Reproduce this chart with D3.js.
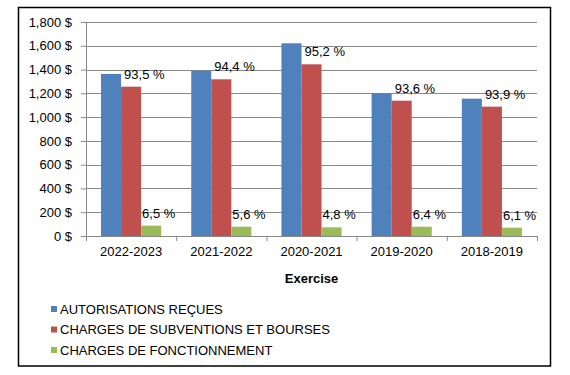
<!DOCTYPE html>
<html>
<head>
<meta charset="utf-8">
<script src="https://cdn.jsdelivr.net/npm/d3@7"></script>
<style>
  body { margin: 0; background: #fff; }
  svg text { font-family: "Liberation Sans", Arial, sans-serif; fill: #000; }
</style>
</head>
<body>
<div id="chart"></div>
<script>
// Data
const years = ["2022-2023", "2021-2022", "2020-2021", "2019-2020", "2018-2019"];
const seriesNames = ["AUTORISATIONS REÇUES", "CHARGES DE SUBVENTIONS ET BOURSES", "CHARGES DE FONCTIONNEMENT"];
const autorisations = [1363, 1390, 1621, 1200, 1155];
const subventions = [1256, 1318, 1444, 1138, 1088];
const fonctionnement = [87, 78, 73, 78, 70];
const subventionsPct = ["93,5 %", "94,4 %", "95,2 %", "93,6 %", "93,9 %"];
const fonctionnementPct = ["6,5 %", "5,6 %", "4,8 %", "6,4 %", "6,1 %"];
const yTicks = [0, 200, 400, 600, 800, 1000, 1200, 1400, 1600, 1800];
const colors = ["#4F81BD", "#C0504D", "#9BBB59"];

const width = 570, height = 375;
const margin = { top: 22, right: 33, bottom: 139, left: 86 };
const plotW = width - margin.left - margin.right;
const plotH = height - margin.top - margin.bottom;

const svg = d3.select("#chart")
    .append("svg")
    .attr("width", width)
    .attr("height", height);

// Outer frame
svg.append("rect")
    .attr("x", 18.5).attr("y", 7.5)
    .attr("width", 532).attr("height", 358.5)
    .attr("fill", "#fff")
    .attr("stroke", "#000")
    .attr("stroke-width", 1.5);

const g = svg.append("g")
    .attr("transform", `translate(${margin.left},${margin.top})`);

const x = d3.scaleBand().domain(years).range([0, plotW]);
const y = d3.scaleLinear().domain([0, 1800]).range([plotH, 0]);

// Bars inside each category: 15px gap each side, 3 bars of equal width
const x1 = d3.scaleBand()
    .domain([0, 1, 2])
    .range([x.bandwidth() / 6, x.bandwidth() * 5 / 6]);

// Gridlines
g.append("g")
    .selectAll("line")
    .data(yTicks.slice(1))
    .join("line")
    .attr("x1", 0).attr("x2", plotW)
    .attr("y1", d => Math.round(y(d)) + 0.5)
    .attr("y2", d => Math.round(y(d)) + 0.5)
    .attr("stroke", "#898989")
    .attr("stroke-width", 1);

// Y axis
const yAxis = g.append("g")
    .call(d3.axisLeft(y).tickValues(yTicks).tickSize(5).tickPadding(9)
        .tickFormat(d => d3.format(",")(d) + " $"));
yAxis.select(".domain").attr("stroke", "#898989");
yAxis.selectAll(".tick line").attr("stroke", "#898989");
yAxis.selectAll("text").style("font-size", "13px");

// Bars
const seriesData = [autorisations, subventions, fonctionnement];
seriesData.forEach((values, si) => {
    g.append("g")
        .selectAll("rect")
        .data(values)
        .join("rect")
        .attr("x", (d, i) => x(years[i]) + x1(si))
        .attr("y", d => y(d))
        .attr("width", x1.bandwidth())
        .attr("height", d => plotH - y(d))
        .attr("fill", colors[si]);
});

// Percent labels
const addLabels = (values, labels, si, dx) => {
    g.append("g")
        .selectAll("text")
        .data(values)
        .join("text")
        .attr("x", (d, i) => x(years[i]) + x1(si) + dx)
        .attr("y", d => y(d) - 8)
        .style("font-size", "13px")
        .text((d, i) => labels[i]);
};
addLabels(subventions, subventionsPct, 1, 3);
addLabels(fonctionnement, fonctionnementPct, 2, 1);

// X axis
const xAxis = g.append("g")
    .attr("transform", `translate(0,${plotH})`)
    .call(d3.axisBottom(x).tickSize(0).tickPadding(11));
xAxis.select(".domain").attr("stroke", "#898989");
xAxis.selectAll("text").style("font-size", "13px");
// category separators
xAxis.selectAll(".sep")
    .data(d3.range(years.length + 1))
    .join("line")
    .attr("x1", i => i * x.step() + 0.5)
    .attr("x2", i => i * x.step() + 0.5)
    .attr("y1", 0).attr("y2", 5)
    .attr("stroke", "#898989");

// Axis title
svg.append("text")
    .attr("x", margin.left + plotW / 2)
    .attr("y", 283)
    .attr("text-anchor", "middle")
    .style("font-size", "13px")
    .style("font-weight", "bold")
    .text("Exercise");

// Legend
const legend = svg.append("g")
    .selectAll("g")
    .data(seriesNames)
    .join("g")
    .attr("transform", (d, i) => `translate(51,${309 + i * 20.5})`);
legend.append("rect")
    .attr("x", 0).attr("y", -3)
    .attr("width", 6).attr("height", 6)
    .attr("fill", (d, i) => colors[i]);
legend.append("text")
    .attr("x", 9).attr("y", 4.5)
    .style("font-size", "13px")
    .text(d => d);
</script>
</body>
</html>
